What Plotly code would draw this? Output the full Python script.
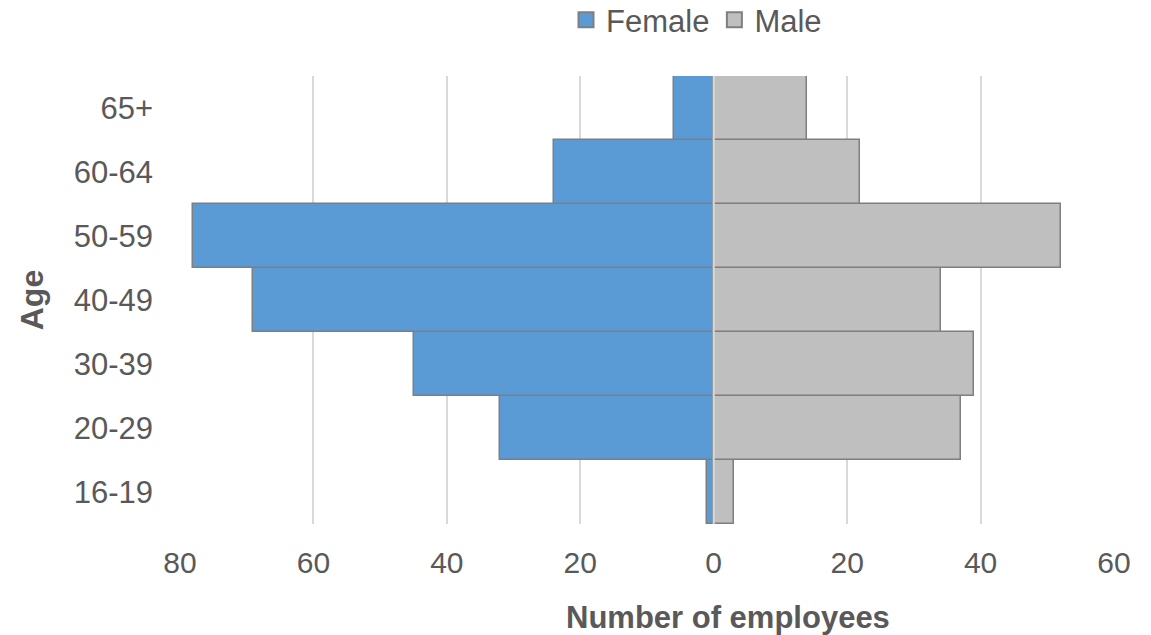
import plotly.graph_objects as go

ages = ["16-19", "20-29", "30-39", "40-49", "50-59", "60-64", "65+"]
female = [1, 32, 45, 69, 78, 24, 6]
male = [3, 37, 39, 34, 52, 22, 14]
tick_vals = [-80, -60, -40, -20, 0, 20, 40, 60]
tick_text = ["80", "60", "40", "20", "0", "20", "40", "60"]

FONT = "Liberation Sans, Arial, sans-serif"
TXT = "#595959"
EDGE = "#7f7f7f"
C_F = "#5b9bd5"
C_M = "#bfbfbf"

fig = go.Figure()
fig.add_trace(go.Bar(
    y=ages, x=[-v for v in female], orientation="h", name="Female",
    marker=dict(color=C_F, line=dict(color=EDGE, width=1.5)), showlegend=False,
))
fig.add_trace(go.Bar(
    y=ages, x=male, orientation="h", name="Male",
    marker=dict(color=C_M, line=dict(color=EDGE, width=1.5)), showlegend=False,
))
# legend-only entries with larger square swatches
for name, col in [("Female", C_F), ("Male", C_M)]:
    fig.add_trace(go.Scatter(
        x=[None], y=[None], mode="markers", name=name,
        marker=dict(symbol="square", size=15, color=col, line=dict(color=EDGE, width=2)),
    ))

fig.add_shape(type="line", xref="x", yref="paper", x0=0, x1=0, y0=0, y1=1,
              line=dict(color="#d9d9d9", width=2), layer="above")

fig.add_annotation(text="<b>Number of employees</b>", xref="paper", yref="paper",
                   x=0.587, y=-0.2076, xanchor="center", yanchor="middle",
                   showarrow=False, font=dict(size=31, color=TXT, family=FONT))

fig.update_layout(
    width=1151, height=635,
    margin=dict(l=180, r=37, t=76, b=111, autoexpand=False),
    barmode="overlay", bargap=0,
    paper_bgcolor="white", plot_bgcolor="white",
    font=dict(family=FONT, color=TXT, size=31),
    legend=dict(orientation="h", x=0.553, xanchor="center", y=1.125, yanchor="middle",
                yref="paper", font=dict(size=31, color=TXT),
                itemwidth=30, tracegroupgap=0, bgcolor="rgba(0,0,0,0)"),
    xaxis=dict(range=[-80, 60], tickvals=tick_vals, ticktext=tick_text,
               showgrid=True, gridcolor="#d9d9d9", gridwidth=1.5,
               zeroline=False, showline=False, ticks="",
               ticklabelstandoff=18,
               tickfont=dict(size=30, color=TXT, family=FONT)),
    yaxis=dict(categoryorder="array", categoryarray=ages,
               showgrid=False, zeroline=False, showline=False, ticks="",
               ticklabelstandoff=26,
               tickfont=dict(size=31, color=TXT, family=FONT),
               title=dict(text="<b>Age</b>", standoff=20,
                          font=dict(size=32, color=TXT, family=FONT))),
    showlegend=True,
)

fig.write_html("out.html")
